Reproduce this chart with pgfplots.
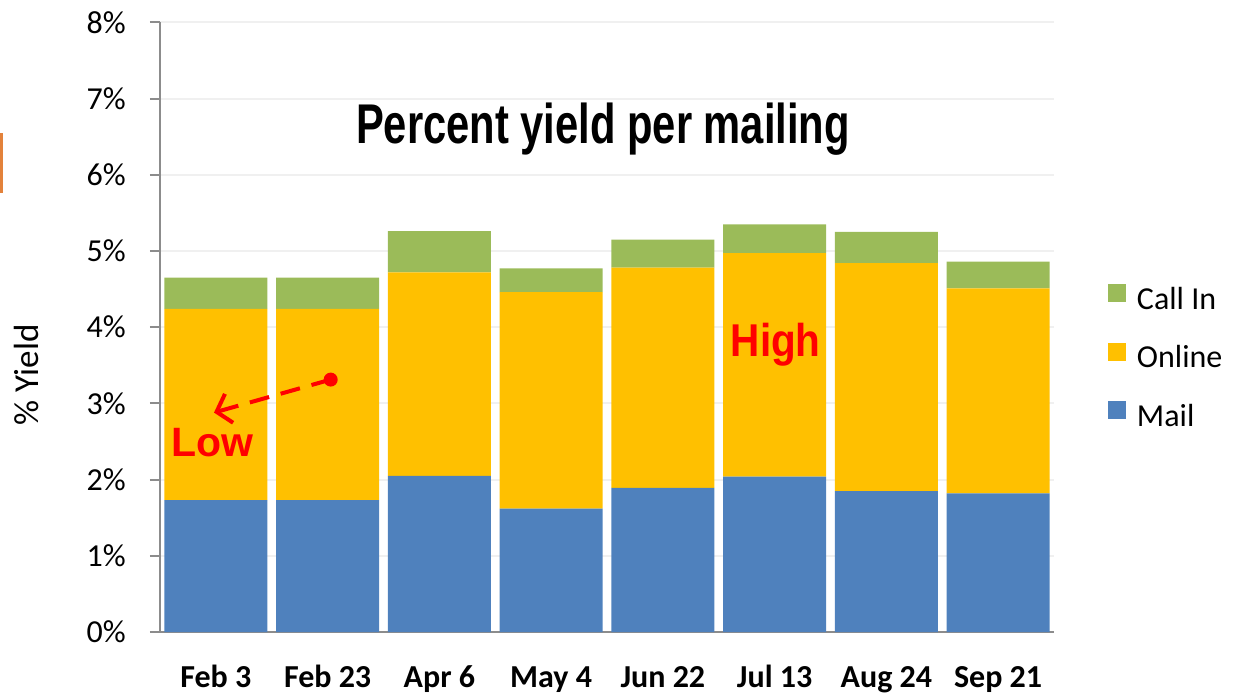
\documentclass[border=0pt]{standalone}
\usepackage{pgfplots}
\pgfplotsset{compat=1.18}
\usepackage{graphicx}
\usepackage{fontspec}
\setmainfont{Carlito}
\newfontfamily\arial{Liberation Sans}
\usetikzlibrary{arrows.meta}
\definecolor{cMail}{HTML}{4F81BD}
\definecolor{cOnline}{HTML}{FFC000}
\definecolor{cCall}{HTML}{9BBB59}
\definecolor{cAxis}{HTML}{8C8C8C}
\definecolor{cGrid}{HTML}{F0F0F0}
\definecolor{cOrange}{HTML}{E3823B}
\begin{document}
\begin{tikzpicture}
\useasboundingbox (0pt,0pt) rectangle (1242pt,694pt);
\fill[cOrange] (0pt,501pt) rectangle (3pt,561pt);
\begin{axis}[
  at={(160pt,62pt)}, anchor=south west,
  width=894pt, height=609.7pt, scale only axis,
  ybar stacked, bar width=103pt,
  xmin=-0.5, xmax=7.5, ymin=0, ymax=8,
  axis x line=bottom, axis y line=left,
  axis line style={-, draw=cAxis, line width=2pt},
  xtick={0,...,7},
  xticklabels={Feb 3,Feb 23,Apr 6,May 4,Jun 22,Jul 13,Aug 24,Sep 21},
  xtick style={draw=none},
  ytick={0,...,8},
  yticklabels={0\%,1\%,2\%,3\%,4\%,5\%,6\%,7\%,8\%},
  tick align=outside, major tick length=10pt,
  ytick style={draw=cAxis, line width=2pt},
  ymajorgrids, grid style={draw=cGrid, line width=2pt},
  yticklabel style={font=\fontsize{32}{36}\selectfont, inner sep=0pt, xshift=-24pt},
  xticklabel style={font=\fontsize{32}{36}\selectfont\bfseries, anchor=base, inner sep=0pt, yshift=-45pt},
  ylabel={\% Yield},
  ylabel style={font=\fontsize{35}{38}\selectfont, at={(axis description cs:-0.1488,0.4215)}, anchor=center},
  reverse legend,
  legend cell align=left,
  legend image code/.code={\fill[#1] (0pt,0pt) rectangle (18pt,18pt);},
  legend style={at={(axis description cs:1.0604,0.4485)}, anchor=west,
    draw=none, fill=none, inner sep=0pt, outer sep=0pt,
    font=\fontsize{32}{36}\selectfont,
    nodes={inner sep=0pt, text height=21pt, text depth=7pt},
    row sep=26.5pt,
    /tikz/every odd column/.append style={column sep=11pt}},
  clip=false,
  after end axis/.code={
    \node[anchor=base, inner sep=0pt] at (axis cs:3.464,6.41) {\scalebox{0.745}[1]{\arial\fontsize{56}{60}\selectfont\bfseries Percent yield per mailing}};
    \node[anchor=base, inner sep=0pt, text=red] at (axis cs:-0.030,2.30) {\arial\fontsize{41}{44}\selectfont\bfseries Low};
    \node[anchor=base, inner sep=0pt, text=red] at (axis cs:5.010,3.61) {\scalebox{0.88}[1]{\arial\fontsize{46}{50}\selectfont\bfseries High}};
    \draw[red, line width=4pt, dash pattern=on 20pt off 12pt, -{Straight Barb[length=13pt,width=30pt,line width=4pt]}] (axis cs:1.0275,3.312) -- (axis cs:-0.0168,2.879);
    \fill[red] (axis cs:1.0275,3.312) circle (7pt);
  },
]
\addplot[fill=cMail, draw=none] coordinates {(0,1.73) (1,1.73) (2,2.05) (3,1.62) (4,1.89) (5,2.04) (6,1.85) (7,1.82)};
\addlegendentry{Mail}
\addplot[fill=cOnline, draw=none] coordinates {(0,2.51) (1,2.51) (2,2.67) (3,2.84) (4,2.89) (5,2.93) (6,2.99) (7,2.69)};
\addlegendentry{Online}
\addplot[fill=cCall, draw=none] coordinates {(0,0.41) (1,0.41) (2,0.54) (3,0.31) (4,0.37) (5,0.38) (6,0.41) (7,0.35)};
\addlegendentry{Call In}
\end{axis}
\end{tikzpicture}
\end{document}
